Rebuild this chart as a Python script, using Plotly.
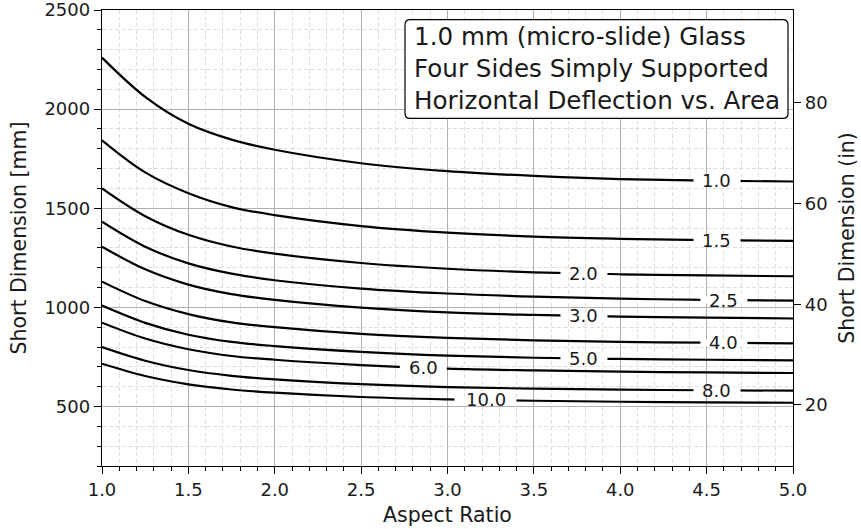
import numpy as np
import plotly.graph_objects as go

# Aspect ratios at which each contour was sampled
aspect = [1.0, 1.25, 1.5, 1.75, 2.0, 2.5, 3.0, 3.5, 4.0, 4.5, 5.0]

# Short dimension [mm] along each contour, keyed by contour level
c_1_0 = [2260, 2062, 1926, 1846, 1795, 1727, 1687, 1663, 1647, 1639, 1635]
c_1_5 = [1843, 1681, 1576, 1506, 1465, 1410, 1377, 1357, 1346, 1339, 1336]
c_2_0 = [1600, 1460, 1366, 1307, 1271, 1224, 1195, 1177, 1167, 1161, 1157]
c_2_5 = [1432, 1306, 1222, 1170, 1137, 1095, 1070, 1054, 1044, 1038, 1034]
c_3_0 = [1306, 1192, 1115, 1067, 1038, 999, 975, 962, 953, 948, 944]
c_4_0 = [1130, 1032, 966, 924, 900, 866, 846, 834, 826, 822, 819]
c_5_0 = [1009, 922, 862, 826, 805, 776, 757, 746, 740, 736, 733]
c_6_0 = [923, 843, 789, 755, 736, 709, 691, 682, 676, 672, 669]
c_8_0 = [800, 731, 684, 655, 637, 613, 598, 590, 585, 582, 580]
c_10_0 = [716, 654, 612, 586, 570, 548, 536, 529, 524, 521, 519]

levels = ["1.0", "1.5", "2.0", "2.5", "3.0", "4.0", "5.0", "6.0", "8.0", "10.0"]
curves = [c_1_0, c_1_5, c_2_0, c_2_5, c_3_0, c_4_0, c_5_0, c_6_0, c_8_0, c_10_0]

# Where each inline contour label sits along the aspect-ratio axis
label_at = [4.56, 4.56, 3.79, 4.60, 3.79, 4.60, 3.79, 2.86, 4.56, 3.22]

y_ticks_mm = [500, 1000, 1500, 2000, 2500]
y_ticks_in = [20, 40, 60, 80]
y_range_mm = [200, 2500]
MM_PER_IN = 25.4

title_lines = ["1.0 mm (micro-slide) Glass",
               "Four Sides Simply Supported",
               "Horizontal Deflection vs. Area"]

FONT = "DejaVu Sans"
INK = "#1a1a1a"
TICK_SIZE = 18
LABEL_SIZE = 20.5

fig = go.Figure()

for lvl, ys in zip(levels, curves):
    fig.add_trace(go.Scatter(
        x=aspect, y=ys, mode="lines", name=lvl,
        line=dict(color="black", width=2.2, shape="spline", smoothing=1.0),
        showlegend=False, hoverinfo="skip",
    ))

# invisible trace that carries the inch axis
fig.add_trace(go.Scatter(
    x=aspect, y=np.array(c_1_0) / MM_PER_IN, yaxis="y2", mode="lines",
    line=dict(color="rgba(0,0,0,0)", width=0), showlegend=False, hoverinfo="skip",
))

shapes = []
annotations = []
for lvl, ys, lx in zip(levels, curves, label_at):
    ly = float(np.interp(lx, aspect, ys))
    half = (15 * len(lvl) + 2) / 2
    # white mask that opens a gap in the contour line for its label
    shapes.append(dict(
        type="rect", xref="x", yref="y", xsizemode="pixel", ysizemode="pixel",
        xanchor=lx, yanchor=ly, x0=-half, x1=half, y0=-3.5, y1=3.5,
        fillcolor="white", line=dict(width=0), layer="above",
    ))
    annotations.append(dict(
        x=lx, y=ly, xref="x", yref="y", text=lvl, showarrow=False,
        font=dict(family=FONT, size=TICK_SIZE, color=INK),
        xanchor="center", yanchor="middle",
    ))

# rounded box behind the title text (paper coordinates)
bx0, bx1, by0, by1 = 0.4385, 0.9928, 0.7623, 0.979
rx, ry = 0.0075, 0.0115
path = (f"M {bx0+rx},{by1} L {bx1-rx},{by1} Q {bx1},{by1} {bx1},{by1-ry} "
        f"L {bx1},{by0+ry} Q {bx1},{by0} {bx1-rx},{by0} "
        f"L {bx0+rx},{by0} Q {bx0},{by0} {bx0},{by0+ry} "
        f"L {bx0},{by1-ry} Q {bx0},{by1} {bx0+rx},{by1} Z")
shapes.append(dict(type="path", xref="paper", yref="paper", path=path,
                   fillcolor="white", line=dict(color="black", width=1.2),
                   layer="above"))
annotations.append(dict(
    x=0.449, y=(by0 + by1) / 2, xref="paper", yref="paper",
    text="<br>".join(title_lines), showarrow=False, align="left",
    xanchor="left", yanchor="middle",
    font=dict(family=FONT, size=24.6, color=INK),
))

grid_major = "#b0b0b0"
grid_minor = "#dedede"
minor_dash = "4px,2.5px"

fig.update_layout(
    width=861, height=529,
    margin=dict(l=102, r=68, t=10, b=63, autoexpand=False),
    paper_bgcolor="white", plot_bgcolor="white",
    font=dict(family=FONT, size=TICK_SIZE, color=INK),
    shapes=shapes, annotations=annotations,
    xaxis=dict(
        range=[1.0, 5.0], dtick=0.5, tick0=1.0, tickformat=".1f",
        ticks="outside", ticklen=7, tickwidth=1.2, tickcolor="black",
        showline=True, linecolor="black", linewidth=1.4, mirror=True,
        showgrid=True, gridcolor=grid_major, gridwidth=1,
        zeroline=False, ticklabeloverflow="allow",
        minor=dict(dtick=0.1, ticks="outside", ticklen=4, tickcolor="black",
                   showgrid=True, gridcolor=grid_minor, griddash=minor_dash,
                   gridwidth=1),
        title=dict(text="Aspect Ratio", standoff=8,
                   font=dict(family=FONT, size=LABEL_SIZE, color=INK)),
        tickfont=dict(family=FONT, size=TICK_SIZE, color=INK),
    ),
    yaxis=dict(
        range=y_range_mm, tickvals=y_ticks_mm,
        ticks="outside", ticklen=7, tickwidth=1.2, tickcolor="black",
        showline=True, linecolor="black", linewidth=1.4, mirror=True,
        showgrid=True, gridcolor=grid_major, gridwidth=1,
        zeroline=False, ticklabeloverflow="allow",
        minor=dict(dtick=100, tick0=0, ticks="outside", ticklen=4,
                   tickcolor="black", showgrid=True, gridcolor=grid_minor,
                   griddash=minor_dash, gridwidth=1),
        title=dict(text="Short Dimension [mm]", standoff=12,
                   font=dict(family=FONT, size=LABEL_SIZE, color=INK)),
        tickfont=dict(family=FONT, size=TICK_SIZE, color=INK),
    ),
    yaxis2=dict(
        overlaying="y", side="right",
        range=[y_range_mm[0] / MM_PER_IN, y_range_mm[1] / MM_PER_IN],
        tickvals=y_ticks_in, ticks="outside", ticklen=7, tickwidth=1.2,
        tickcolor="black", showline=True, linecolor="black", linewidth=1.4,
        showgrid=False, zeroline=False, ticklabeloverflow="allow",
        title=dict(text="Short Dimension (in)", standoff=12,
                   font=dict(family=FONT, size=LABEL_SIZE, color=INK)),
        tickfont=dict(family=FONT, size=TICK_SIZE, color=INK),
    ),
)

fig.write_html("out.html")
